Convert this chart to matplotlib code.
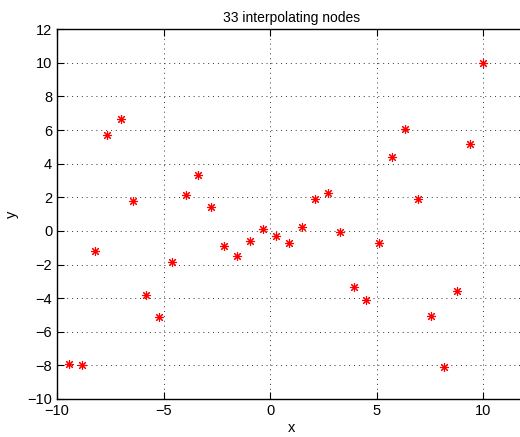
import matplotlib
matplotlib.use("Agg")
import matplotlib.pyplot as plt

# interpolating nodes
x_nodes = [-9.45, -8.84, -8.23, -7.64, -7.01, -6.42, -5.81, -5.20, -4.59,
           -3.96, -3.38, -2.78, -2.16, -1.55, -0.94, -0.36, 0.25, 0.86,
           1.47, 2.10, 2.69, 3.29, 3.91, 4.51, 5.12, 5.73, 6.32, 6.95,
           7.54, 8.14, 8.76, 9.36, 9.97]
y_nodes = [-7.92, -8.00, -1.17, 5.73, 6.68, 1.79, -3.79, -5.12, -1.87,
           2.16, 3.33, 1.45, -0.89, -1.49, -0.60, 0.10, -0.30, -0.70,
           0.24, 1.92, 2.28, -0.04, -3.33, -4.11, -0.70, 4.38, 6.09, 1.88,
           -5.04, -8.08, -3.57, 5.18, 10.00]
x_ticks = [-10, -5, 0, 5, 10]
y_ticks = list(range(-10, 13, 2))

plt.rcParams['font.family'] = ['Liberation Sans', 'DejaVu Sans']

fig = plt.figure(figsize=(5.2, 4.37), dpi=100)
ax = fig.add_axes([0.1096, 0.087, 0.902, 0.846])

ax.plot(x_nodes, y_nodes, linestyle='none', marker=(8, 2, 0),
        markersize=6.5, markeredgewidth=0.8, color='red')

ax.set_xlim(-10, 12)
ax.set_ylim(-10, 12)
ax.set_xticks(x_ticks)
ax.set_yticks(y_ticks)
ax.set_xticklabels(['\u221210', '\u22125', '0', '5', '10'])
ax.set_yticklabels([str(v).replace('-', '\u2212') for v in y_ticks])

ax.grid(True, linestyle=(0, (1, 4)), color='#333333', linewidth=0.7)
ax.tick_params(direction='in', length=5, width=0.8, top=True, right=True,
               labelsize=10.5, colors='black')
for s in ax.spines.values():
    s.set_linewidth(1.0)

ax.set_title('33 interpolating nodes', fontsize=10, pad=5)
ax.set_xlabel('x', fontsize=10.5, labelpad=2)
ax.set_ylabel('y', fontsize=10.5, labelpad=6)

fig.savefig('out.png', dpi=100)
